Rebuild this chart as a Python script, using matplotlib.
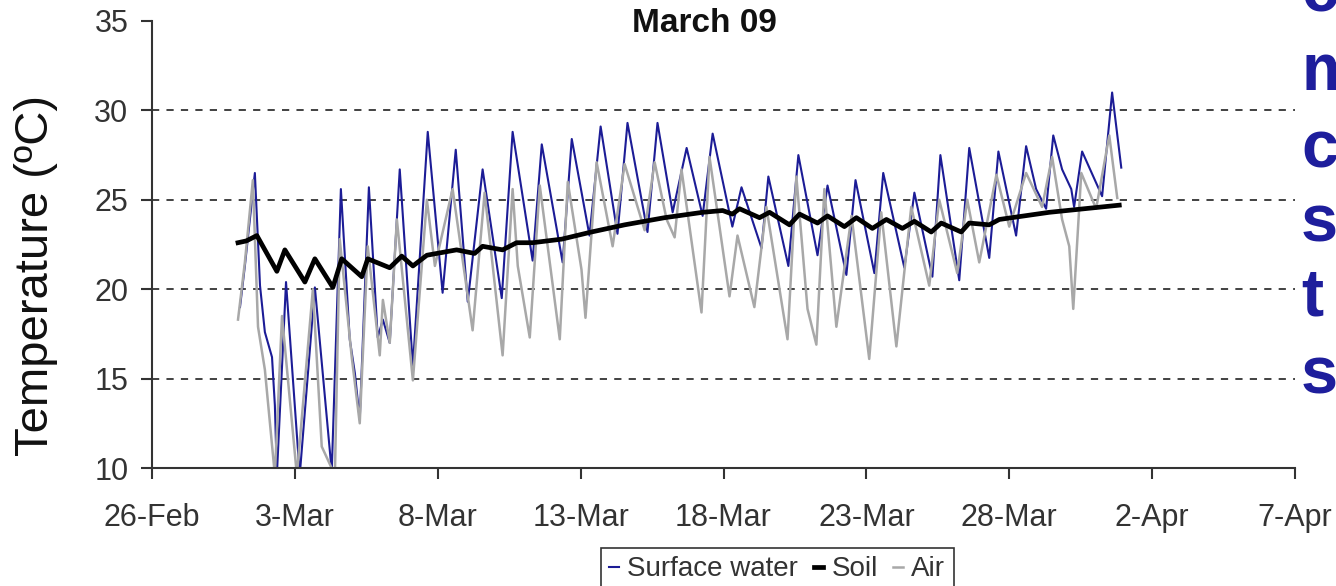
import numpy as np
import pandas as pd
import matplotlib
matplotlib.use("Agg")
import matplotlib.pyplot as plt
import matplotlib.dates as mdates
from matplotlib.ticker import FuncFormatter

plt.rcParams['font.family'] = ['Liberation Sans', 'DejaVu Sans']

# time = day of March 2009 (decimal), values in degC
water_t = [1.08, 1.25, 1.60, 1.78, 1.95, 2.20, 2.30, 2.37, 2.69, 3.17, 3.70, 4.29,
           4.61, 4.92, 5.10, 5.27, 5.59, 5.90, 6.08, 6.32, 6.67, 7.13, 7.65, 8.17,
           8.63, 9.05, 9.57, 10.24, 10.62, 11.32, 11.64, 12.37, 12.69, 13.31, 13.70,
           14.29, 14.64, 15.34, 15.69, 16.22, 16.71, 17.27, 17.62, 18.31, 18.63,
           19.33, 19.57, 20.27, 20.62, 21.29, 21.64, 22.30, 22.62, 23.28, 23.59,
           24.33, 24.68, 25.31, 25.59, 26.25, 26.60, 27.30, 27.62, 28.24, 28.59,
           28.94, 29.29, 29.54, 29.85, 30.17, 30.27, 30.55, 31.25, 31.60, 31.92]
water_v = [19.0, 21.3, 26.5, 20.2, 17.6, 16.2, 13.5, 9.6, 20.4, 9.6, 20.1, 9.8,
           25.6, 17.2, 15.3, 12.7, 25.7, 17.3, 18.3, 17.0, 26.7, 15.7, 28.8, 19.8,
           27.8, 19.3, 26.7, 19.5, 28.8, 21.6, 28.1, 21.5, 28.4, 23.0, 29.1,
           23.1, 29.3, 23.2, 29.3, 24.3, 27.9, 24.1, 28.7, 23.5, 25.7,
           22.3, 26.3, 21.3, 27.5, 21.9, 25.8, 20.8, 26.1, 20.9, 26.5,
           21.2, 25.4, 20.7, 27.5, 20.5, 27.9, 21.75, 27.7, 23.0, 28.0,
           25.6, 24.5, 28.6, 26.7, 25.6, 24.6, 27.7, 25.2, 31.0, 26.8]

air_t = [1.01, 1.25, 1.53, 1.71, 1.95, 2.30, 2.55, 3.07, 3.63, 3.94, 4.40, 4.57,
         4.99, 5.27, 5.55, 5.97, 6.08, 6.32, 6.57, 7.13, 7.62, 7.90, 8.52, 9.22,
         9.64, 10.27, 10.62, 10.80, 11.22, 11.57, 12.27, 12.55, 13.03, 13.17,
         13.56, 14.12, 14.54, 15.24, 15.59, 16.01, 16.29, 16.53, 17.23, 17.51,
         18.21, 18.49, 19.08, 19.50, 20.24, 20.55, 20.94, 21.25, 21.53, 21.95,
         22.48, 23.10, 23.52, 24.05, 24.57, 25.20, 25.55, 26.18, 26.53, 26.95,
         27.55, 28.00, 28.59, 29.15, 29.50, 29.85, 30.10, 30.24, 30.52, 31.04,
         31.50, 31.78]
air_v = [18.3, 21.5, 26.1, 17.9, 15.5, 9.6, 18.5, 9.6, 20.0, 11.2, 9.6, 22.8,
         16.2, 12.5, 22.4, 16.3, 19.4, 17.0, 23.9, 14.9, 25.0, 21.3, 25.6, 17.7,
         25.4, 16.3, 25.6, 21.3, 17.3, 25.8, 17.2, 26.0, 21.1, 18.4,
         27.1, 22.4, 27.0, 23.3, 27.1, 23.9, 22.9, 26.7, 18.7, 27.4,
         19.6, 23.0, 19.0, 24.6, 17.2, 26.3, 18.9, 16.9, 25.6, 17.9,
         24.1, 16.1, 24.3, 16.8, 24.6, 20.2, 25.0, 20.9, 25.0, 21.5,
         26.4, 23.5, 26.5, 24.6, 27.4, 23.9, 22.4, 18.9, 26.5, 24.5,
         28.6, 25.1]

soil_t = [1.01, 1.30, 1.67, 2.37, 2.65, 3.35, 3.70, 4.33, 4.64, 5.34, 5.55, 6.32,
          6.74, 7.13, 7.62, 8.66, 9.29, 9.57, 10.27, 10.76, 11.32, 12.34, 13.38,
          14.54, 15.94, 17.27, 17.97, 18.31, 18.56, 19.26, 19.61, 20.31, 20.66,
          21.29, 21.64, 22.23, 22.65, 23.21, 23.70, 24.26, 24.68, 25.27, 25.62,
          26.32, 26.60, 27.30, 27.65, 29.40, 31.85]
soil_v = [22.6, 22.7, 23.0, 21.0, 22.2, 20.4, 21.7, 20.1, 21.7, 20.7, 21.7, 21.2,
          21.85, 21.3, 21.9, 22.2, 22.0, 22.4, 22.2, 22.6, 22.6, 22.8, 23.2,
          23.6, 24.0, 24.3, 24.4, 24.2, 24.5, 24.0, 24.3, 23.6, 24.2,
          23.7, 24.1, 23.5, 24.0, 23.4, 23.9, 23.4, 23.8, 23.2, 23.7,
          23.2, 23.7, 23.6, 23.9, 24.3, 24.7]

side_letters = ["c", "m", "c", "s", "t", "s"]


def to_dates(days):
    return pd.Timestamp("2009-03-01") + pd.to_timedelta(np.array(days) - 1, unit="D")


fig = plt.figure(figsize=(13.36, 5.86), dpi=100)
ax = fig.add_axes([152 / 1336, 118 / 586, 1143 / 1336, 447 / 586])

ax.plot(to_dates(water_t), water_v, color="#1c1c96", lw=1.5, label="Surface water")
ax.plot(to_dates(air_t), air_v, color="#a8a8a8", lw=1.8, label="Air")
ax.plot(to_dates(soil_t), soil_v, color="black", lw=3.4, label="Soil")

ax.set_xlim(pd.Timestamp("2009-02-26"), pd.Timestamp("2009-04-07"))
ax.set_ylim(10, 35)
ax.set_yticks([10, 15, 20, 25, 30, 35])
ax.set_xticks(pd.date_range("2009-02-26", "2009-04-07", freq="5D"))
ax.xaxis.set_major_formatter(FuncFormatter(
    lambda v, p: "%d-%s" % (mdates.num2date(v).day, mdates.num2date(v).strftime("%b"))))

for y in [15, 20, 25, 30]:
    ax.axhline(y, color="#333333", lw=1.3, ls=(0, (4, 4)), zorder=0)

for s in ["top", "right"]:
    ax.spines[s].set_visible(False)
for s in ["left", "bottom"]:
    ax.spines[s].set_color("#333333")
    ax.spines[s].set_linewidth(1.5)
ax.tick_params(axis="both", direction="out", length=8, width=1.5, color="#333333",
               labelsize=22, labelcolor="#333333", pad=9)
ax.tick_params(axis="x", pad=17)

fig.text(36 / 1336, 1 - 275 / 586, "Temperature (ºC)", rotation=90, ha="center",
         va="center", fontsize=34, color="#111111")
fig.text(704 / 1336, 1 - 24 / 586, "March 09", ha="center", va="center",
         fontsize=24, fontweight="bold", color="#111111")

h, l = ax.get_legend_handles_labels()
order = [0, 2, 1]
leg = fig.legend([h[i] for i in order], [l[i] for i in order], loc="upper left",
                 bbox_to_anchor=(601 / 1336, 1 - 548 / 586), ncol=3, fontsize=20,
                 frameon=True, fancybox=False, handlelength=0.35, handletextpad=0.3,
                 columnspacing=0.55, borderpad=0.3, borderaxespad=0)
leg.get_frame().set_edgecolor("black")
leg.get_frame().set_linewidth(1.2)
for t in leg.get_texts():
    t.set_color("#333333")

ys = [12, 90, 168, 242, 316, 394]
for ch, y in zip(side_letters, ys):
    fig.text(1301 / 1336, 1 - y / 586, ch, ha="left", va="baseline",
             fontsize=48, fontweight="bold", color="#1e1e9c")

fig.savefig("out.png", dpi=100)
